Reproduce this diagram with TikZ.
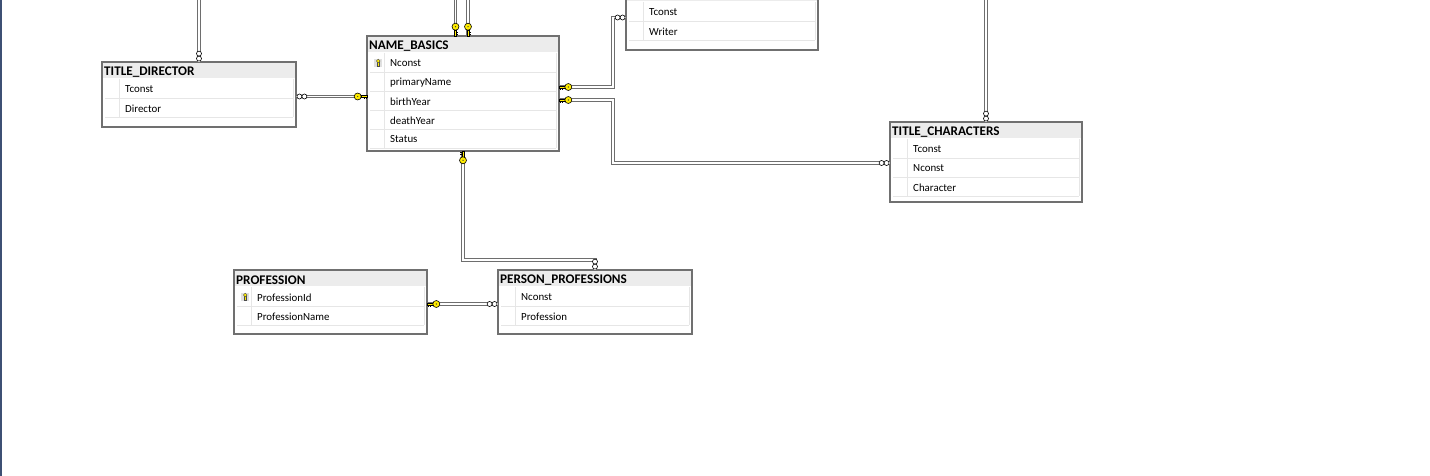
\documentclass[tikz,border=0pt]{standalone}
\usepackage{fontspec}
\setmainfont{Carlito}
\usepackage{xcolor}
\usetikzlibrary{positioning, calc}
\definecolor{Frame}{RGB}{112, 112, 112}
\definecolor{HeadGray}{RGB}{236, 236, 236}
\definecolor{RowLine}{RGB}{230, 230, 230}
\definecolor{KeyYellow}{RGB}{255, 236, 0}
\definecolor{EdgeBlue}{RGB}{62, 80, 116}
\definecolor{LinkGray}{RGB}{110, 110, 110}
\newcommand{\fieldfont}{\fontsize{10.9}{12}\selectfont}
\newcommand{\titlefont}{\fontsize{13.2}{14}\selectfont\bfseries}
% #1 name, #2 top left, #3 width, #4 height, #5 title, #6 rows, #7 key row
\newcommand{\erdtable}[7]{%
  \node[tblbox, minimum width=#3, minimum height=#4, anchor=north west] (#1) at (#2) {};
  \fill[HeadGray] ($(#1.north west)+(1,1)$) rectangle ($(#1.north east)+(-1,16)$);
  \node[tbltitle] (#1-title) at ($(#1.north west)+(2,10)$) {#5};
  \foreach \f [count=\i] in {#6} {
    \draw[rowsep] ($(#1.north west)+(3,19*\i+17)$) -- ($(#1.north east)+(-3,19*\i+17)$);
    \draw[rowsep] ($(#1.north west)+(17,19*\i-2)$) -- ($(#1.north west)+(17,19*\i+17)$);
    \draw[rowsep] ($(#1.north east)+(-3,19*\i-2)$) -- ($(#1.north east)+(-3,19*\i+17)$);
    \ifnum\i=#7
      \fill[black!12] ($(#1.north west)+(7,19*\i+4)$) rectangle ($(#1.north west)+(15,19*\i+12)$);
      \fill[KeyYellow, draw=black!70, line width=0.3] ($(#1.north west)+(10.6,19*\i+6)$) rectangle ($(#1.north west)+(11.8,19*\i+11.5)$);
      \filldraw[fill=KeyYellow, draw=black!70, line width=0.3] ($(#1.north west)+(11.2,19*\i+6)$) circle (1.9);
    \fi
    \node[field] (#1-\i) at ($(#1.north west)+(23,19*\i+8.5)$) {\f};
  }
}

\begin{document}
\begin{tikzpicture}[x=1pt, y=-1pt,
    tblbox/.style={draw=Frame, line width=1.7, fill=white, inner sep=0, outer sep=0},
    tbltitle/.style={anchor=west, inner sep=0, font=\titlefont},
    field/.style={anchor=west, inner sep=0, font=\fieldfont, text=black},
    rowsep/.style={draw=RowLine, line width=0.8},
    rel/.style={draw=LinkGray, line width=1, double=white, double distance=1.4},
    keyend/.pic={
      \filldraw[fill=KeyYellow, draw=black, line width=0.5] (0,-1.1) rectangle (6,1.1);
      \draw[black, line width=0.6] (1.2,1.1) -- (1.2,2.8) (3.2,1.1) -- (3.2,2.8);
      \filldraw[fill=KeyYellow, draw=black, line width=0.6] (9.3,0) circle (3.5);
      \fill[black!80] (9.3,0) circle (0.7);
    },
    manyend/.pic={
      \filldraw[fill=white, draw=black, line width=0.6] (3.4,0) circle (2.5) (8.4,0) circle (2.5);
    }
  ]
  \useasboundingbox (0,0) rectangle (1430,476);
  \clip (0,0) rectangle (1430,476);
  \fill[EdgeBlue] (0,0) rectangle (2,476);

  % tables
  \erdtable{td}{102,62}{194}{65}{TITLE\_DIRECTOR}{Tconst,Director}{0}
  \erdtable{nb}{367,36}{192}{115}{NAME\_BASICS}{Nconst,primaryName,birthYear,deathYear,Status}{1}
  \erdtable{wt}{626,-15}{192}{65}{}{Tconst,Writer}{0}
  \erdtable{tc}{890,122}{192}{80}{TITLE\_CHARACTERS}{Tconst,Nconst,Character}{0}
  \erdtable{pf}{234,270}{193}{64}{PROFESSION}{ProfessionId,ProfessionName}{1}
  \erdtable{pp}{498,270}{194}{64}{PERSON\_PROFESSIONS}{Nconst,Profession}{0}

  % link points
  \coordinate (td out) at ($(td.east)+(0,2)$);
  \coordinate (nb in) at (td out -| nb.west);
  \coordinate (nb t1) at ($(nb.north)+(-7.5,0)$);
  \coordinate (nb t2) at ($(nb.north)+(5,0)$);
  \coordinate (nb r1) at ($(nb.north east)+(0,51)$);
  \coordinate (nb r2) at ($(nb.north east)+(0,64)$);
  \coordinate (jog) at ([xshift=-13]wt.west);
  \coordinate (tc in) at ($(tc.west)+(0,1)$);
  \coordinate (pf out) at ($(pf.east)+(0,2)$);
  \coordinate (pp in) at (pf out -| pp.west);

  % relationships
  \draw[rel] (td.north |- 0,-5) -- (td.north);
  \draw[rel] (td out) -- (nb in);
  \draw[rel] (nb t1 |- 0,-5) -- (nb t1);
  \draw[rel] (nb t2 |- 0,-5) -- (nb t2);
  \draw[rel] (nb r1) -| (jog) -- (wt.west);
  \draw[rel] (nb r2) -| (jog |- tc in) -- (tc in);
  \draw[rel] (tc.north |- 0,-5) -- (tc.north);
  \draw[rel] (nb.south) |- ([yshift=10]pp.north) -- (pp.north);
  \draw[rel] (pf out) -- (pp in);

  % ends
  \pic[rotate=90] at (td.north) {manyend};
  \pic at (td out) {manyend};
  \pic[xscale=-1] at (nb in) {keyend};
  \pic[rotate=90] at (nb t1) {keyend};
  \pic[rotate=90] at (nb t2) {keyend};
  \pic at (nb r1) {keyend};
  \pic at (nb r2) {keyend};
  \pic[xscale=-1] at (wt.west) {manyend};
  \pic[xscale=-1] at (tc in) {manyend};
  \pic[rotate=90] at (tc.north) {manyend};
  \pic[rotate=-90] at (nb.south) {keyend};
  \pic[rotate=90] at (pp.north) {manyend};
  \pic at (pf out) {keyend};
  \pic[xscale=-1] at (pp in) {manyend};
\end{tikzpicture}
\end{document}
